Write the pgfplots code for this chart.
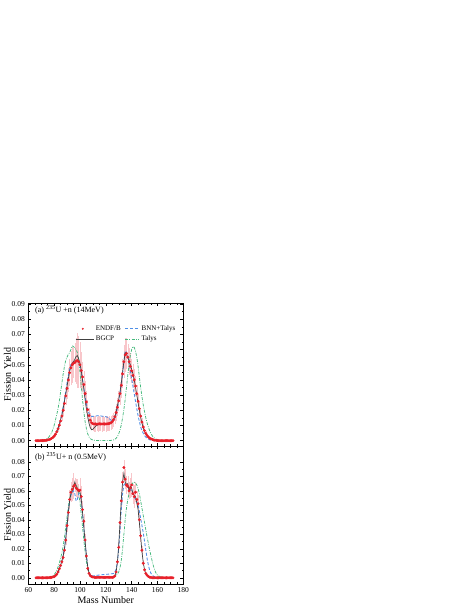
\documentclass[border=0pt]{standalone}
\usepackage{fontspec}
\setmainfont{Liberation Serif}
\usepackage{pgfplots}
\pgfplotsset{compat=1.18}
\usepackage{pgfplotstable}

\definecolor{endf}{HTML}{E8202A}
\definecolor{errpink}{HTML}{F8C6CA}
\definecolor{bgcp}{HTML}{404040}
\definecolor{bnn}{HTML}{4F8FE6}
\definecolor{talys}{HTML}{45B97C}

% ---------- (a) 14 MeV ----------
\pgfplotstableread{
A Y E
66 0.0000 0.0000
67 0.0000 0.0000
68 0.0000 0.0000
69 0.0000 0.0000
70 0.0001 0.0000
71 0.0001 0.0000
72 0.0001 0.0001
73 0.0002 0.0001
74 0.0003 0.0001
75 0.0005 0.0001
76 0.0007 0.0002
77 0.0010 0.0003
78 0.0015 0.0004
79 0.0021 0.0005
80 0.0030 0.0007
81 0.0042 0.0010
82 0.0058 0.0013
83 0.0078 0.0018
84 0.0102 0.0022
85 0.0130 0.0028
86 0.0162 0.0035
87 0.0200 0.0040
88 0.0245 0.0050
89 0.0295 0.0060
90 0.0345 0.0070
91 0.0400 0.0080
92 0.0448 0.0090
93 0.0480 0.0110
94 0.0500 0.0120
95 0.0510 0.0100
96 0.0515 0.0130
97 0.0525 0.0150
98 0.0528 0.0180
99 0.0520 0.0170
100 0.0500 0.0150
101 0.0462 0.0120
102 0.0420 0.0100
103 0.0370 0.0090
104 0.0310 0.0080
105 0.0255 0.0070
106 0.0205 0.0060
107 0.0165 0.0050
108 0.0135 0.0050
109 0.0118 0.0045
110 0.0112 0.0045
111 0.0110 0.0050
112 0.0110 0.0050
113 0.0109 0.0045
114 0.0110 0.0050
115 0.0111 0.0050
116 0.0110 0.0045
117 0.0110 0.0050
118 0.0111 0.0050
119 0.0110 0.0045
120 0.0110 0.0050
121 0.0111 0.0050
122 0.0112 0.0045
123 0.0114 0.0050
124 0.0118 0.0045
125 0.0125 0.0045
126 0.0138 0.0045
127 0.0158 0.0050
128 0.0185 0.0055
129 0.0220 0.0060
130 0.0262 0.0065
131 0.0310 0.0075
132 0.0365 0.0085
133 0.0440 0.0095
134 0.0520 0.0110
135 0.0565 0.0110
136 0.0575 0.0100
137 0.0550 0.0090
138 0.0520 0.0090
139 0.0490 0.0085
140 0.0460 0.0080
141 0.0430 0.0075
142 0.0400 0.0070
143 0.0360 0.0065
144 0.0310 0.0060
145 0.0260 0.0050
146 0.0210 0.0045
147 0.0162 0.0040
148 0.0122 0.0030
149 0.0090 0.0025
150 0.0066 0.0020
151 0.0048 0.0015
152 0.0034 0.0010
153 0.0024 0.0008
154 0.0017 0.0006
155 0.0012 0.0004
156 0.0008 0.0003
157 0.0005 0.0002
158 0.0003 0.0001
159 0.0002 0.0001
160 0.0001 0.0000
161 0.0000 0.0000
162 0.0000 0.0000
163 0.0000 0.0000
164 0.0000 0.0000
165 0.0000 0.0000
166 0.0000 0.0000
167 0.0000 0.0000
168 0.0000 0.0000
169 0.0000 0.0000
170 0.0000 0.0000
171 0.0000 0.0000
172 0.0000 0.0000
}\endfa

\pgfplotstableread{
A Y
66 0.0000
70 0.0001
74 0.0002
75 0.0004
76 0.0006
78 0.0014
80 0.0030
82 0.0060
84 0.0105
86 0.0170
88 0.0260
90 0.0360
91 0.0410
92 0.0455
93 0.0490
94 0.0510
95 0.0520
96 0.0535
97 0.0555
98 0.0560
99 0.0540
100 0.0510
101 0.0460
102 0.0400
103 0.0340
104 0.0270
105 0.0210
106 0.0160
107 0.0115
108 0.0085
109 0.0072
110 0.0075
111 0.0085
112 0.0095
114 0.0105
116 0.0110
120 0.0110
122 0.0112
124 0.0118
125 0.0125
126 0.0140
127 0.0160
128 0.0190
129 0.0230
130 0.0270
131 0.0320
132 0.0380
133 0.0450
134 0.0520
135 0.0580
136 0.0570
137 0.0550
138 0.0525
139 0.0500
140 0.0470
141 0.0440
142 0.0400
143 0.0355
144 0.0300
145 0.0250
146 0.0200
147 0.0155
148 0.0115
149 0.0085
150 0.0060
152 0.0030
154 0.0015
156 0.0007
158 0.0003
160 0.0001
165 0.0000
172 0.0000
}\bgcpa

\pgfplotstableread{
A Y
66 0.0000
70 0.0001
74 0.0004
76 0.0008
78 0.0016
80 0.0030
82 0.0058
84 0.0105
86 0.0175
88 0.0270
90 0.0380
91 0.0430
92 0.0470
93 0.0500
94 0.0515
95 0.0520
96 0.0520
97 0.0522
98 0.0525
99 0.0515
100 0.0490
101 0.0450
102 0.0400
103 0.0345
104 0.0290
105 0.0240
106 0.0205
107 0.0180
108 0.0165
109 0.0160
110 0.0160
112 0.0162
114 0.0165
116 0.0163
118 0.0160
120 0.0158
122 0.0152
124 0.0135
125 0.0130
126 0.0135
127 0.0150
128 0.0180
129 0.0215
130 0.0260
131 0.0310
132 0.0370
133 0.0440
134 0.0520
135 0.0590
136 0.0585
137 0.0555
138 0.0510
139 0.0460
140 0.0410
141 0.0360
142 0.0310
143 0.0260
144 0.0210
145 0.0165
146 0.0125
147 0.0090
148 0.0065
150 0.0033
152 0.0015
154 0.0006
156 0.0002
160 0.0000
172 0.0000
}\bnna

\pgfplotstableread{
A Y
66 0.0000
70 0.0002
72 0.0005
74 0.0010
76 0.0025
78 0.0050
80 0.0100
82 0.0170
83 0.0210
84 0.0260
85 0.0320
86 0.0380
87 0.0440
88 0.0490
89 0.0530
90 0.0550
91 0.0570
92 0.0580
93 0.0600
94 0.0625
95 0.0620
96 0.0610
97 0.0600
98 0.0580
99 0.0530
100 0.0450
101 0.0360
102 0.0270
103 0.0190
104 0.0125
105 0.0078
106 0.0045
107 0.0025
108 0.0013
110 0.0004
112 0.0002
116 0.0001
120 0.0001
124 0.0002
126 0.0005
127 0.0009
128 0.0016
129 0.0027
130 0.0045
131 0.0070
132 0.0105
133 0.0150
134 0.0205
135 0.0270
136 0.0350
137 0.0430
138 0.0500
139 0.0560
140 0.0600
141 0.0620
142 0.0615
143 0.0590
144 0.0550
145 0.0490
146 0.0420
147 0.0350
148 0.0290
149 0.0235
150 0.0190
151 0.0150
152 0.0115
153 0.0088
154 0.0065
155 0.0047
156 0.0032
158 0.0014
160 0.0005
163 0.0001
166 0.0000
172 0.0000
}\talysa

% ---------- (b) 0.5 MeV ----------
\pgfplotstableread{
A Y E
66 0.0000 0.0000
67 0.0000 0.0000
68 0.0000 0.0000
69 0.0000 0.0000
70 0.0000 0.0000
71 0.0000 0.0000
72 0.0000 0.0000
73 0.0000 0.0000
74 0.0000 0.0000
75 0.0000 0.0000
76 0.0001 0.0000
77 0.0002 0.0001
78 0.0003 0.0001
79 0.0005 0.0001
80 0.0008 0.0002
81 0.0014 0.0003
82 0.0024 0.0004
83 0.0040 0.0006
84 0.0062 0.0009
85 0.0085 0.0012
86 0.0110 0.0015
87 0.0140 0.0020
88 0.0190 0.0025
89 0.0260 0.0035
90 0.0360 0.0045
91 0.0450 0.0055
92 0.0540 0.0065
93 0.0590 0.0070
94 0.0610 0.0080
95 0.0630 0.0090
96 0.0640 0.0050
97 0.0620 0.0060
98 0.0610 0.0070
99 0.0600 0.0050
100 0.0605 0.0080
101 0.0560 0.0070
102 0.0470 0.0060
103 0.0390 0.0050
104 0.0260 0.0040
105 0.0150 0.0030
106 0.0065 0.0015
107 0.0030 0.0008
108 0.0015 0.0004
109 0.0008 0.0002
110 0.0005 0.0001
111 0.0003 0.0001
112 0.0003 0.0001
113 0.0003 0.0001
114 0.0003 0.0001
115 0.0003 0.0001
116 0.0003 0.0001
117 0.0003 0.0001
118 0.0003 0.0001
119 0.0003 0.0001
120 0.0003 0.0001
121 0.0003 0.0001
122 0.0003 0.0001
123 0.0003 0.0001
124 0.0003 0.0001
125 0.0003 0.0001
126 0.0005 0.0001
127 0.0012 0.0003
128 0.0040 0.0008
129 0.0110 0.0020
130 0.0210 0.0035
131 0.0380 0.0050
132 0.0530 0.0060
133 0.0660 0.0070
134 0.0760 0.0050
135 0.0680 0.0070
136 0.0640 0.0060
137 0.0630 0.0070
138 0.0600 0.0060
139 0.0620 0.0070
140 0.0640 0.0080
141 0.0580 0.0070
142 0.0560 0.0080
143 0.0590 0.0070
144 0.0540 0.0060
145 0.0510 0.0060
146 0.0400 0.0050
147 0.0290 0.0040
148 0.0190 0.0030
149 0.0100 0.0020
150 0.0055 0.0010
151 0.0030 0.0006
152 0.0017 0.0004
153 0.0009 0.0002
154 0.0004 0.0001
155 0.0002 0.0000
156 0.0000 0.0000
157 0.0000 0.0000
158 0.0000 0.0000
159 0.0000 0.0000
160 0.0000 0.0000
161 0.0000 0.0000
162 0.0000 0.0000
163 0.0000 0.0000
164 0.0000 0.0000
165 0.0000 0.0000
166 0.0000 0.0000
167 0.0000 0.0000
168 0.0000 0.0000
169 0.0000 0.0000
170 0.0000 0.0000
171 0.0000 0.0000
172 0.0000 0.0000
}\endfb

\pgfplotstableread{
A Y
66 0.0000
76 0.0000
78 0.0003
80 0.0008
82 0.0022
84 0.0060
85 0.0085
86 0.0115
87 0.0150
88 0.0200
89 0.0270
90 0.0360
91 0.0450
92 0.0530
93 0.0580
94 0.0600
95 0.0620
96 0.0660
97 0.0630
98 0.0610
99 0.0600
100 0.0590
101 0.0540
102 0.0450
103 0.0350
104 0.0250
105 0.0150
106 0.0075
107 0.0035
108 0.0015
110 0.0005
115 0.0003
120 0.0003
125 0.0004
127 0.0012
128 0.0040
129 0.0110
130 0.0220
131 0.0380
132 0.0540
133 0.0660
134 0.0720
135 0.0660
136 0.0640
137 0.0650
138 0.0600
139 0.0630
140 0.0620
141 0.0580
142 0.0570
143 0.0560
144 0.0520
145 0.0470
146 0.0380
147 0.0280
148 0.0180
149 0.0105
150 0.0055
151 0.0028
152 0.0014
154 0.0004
156 0.0001
160 0.0000
172 0.0000
}\bgcpb

\pgfplotstableread{
A Y
66 0.0000
76 0.0001
78 0.0003
80 0.0008
82 0.0022
84 0.0060
86 0.0120
88 0.0200
89 0.0280
90 0.0370
91 0.0460
92 0.0530
93 0.0570
94 0.0590
95 0.0600
96 0.0580
97 0.0530
98 0.0540
99 0.0580
100 0.0580
101 0.0530
102 0.0440
103 0.0340
104 0.0240
105 0.0150
106 0.0080
107 0.0040
108 0.0020
110 0.0012
114 0.0018
118 0.0022
122 0.0025
125 0.0028
126 0.0030
127 0.0040
128 0.0060
129 0.0110
130 0.0200
131 0.0330
132 0.0470
133 0.0580
134 0.0640
135 0.0650
136 0.0640
137 0.0630
138 0.0620
139 0.0610
140 0.0600
141 0.0580
142 0.0560
143 0.0540
144 0.0520
145 0.0500
146 0.0460
147 0.0410
148 0.0360
149 0.0310
150 0.0250
151 0.0190
152 0.0130
153 0.0085
154 0.0050
155 0.0030
157 0.0010
160 0.0002
164 0.0000
172 0.0000
}\bnnb

\pgfplotstableread{
A Y
66 0.0000
74 0.0001
76 0.0003
78 0.0008
80 0.0020
82 0.0050
84 0.0100
86 0.0170
87 0.0220
88 0.0280
89 0.0350
90 0.0420
91 0.0490
92 0.0550
93 0.0590
94 0.0620
95 0.0640
96 0.0650
97 0.0640
98 0.0620
99 0.0580
100 0.0520
101 0.0440
102 0.0350
103 0.0260
104 0.0180
105 0.0110
106 0.0060
107 0.0030
108 0.0015
110 0.0004
115 0.0001
120 0.0001
125 0.0003
127 0.0008
128 0.0015
129 0.0025
130 0.0040
131 0.0070
132 0.0120
133 0.0200
134 0.0300
135 0.0400
136 0.0480
137 0.0540
138 0.0580
139 0.0615
140 0.0640
141 0.0655
142 0.0660
143 0.0655
144 0.0640
145 0.0615
146 0.0580
147 0.0530
148 0.0480
149 0.0430
150 0.0380
151 0.0330
152 0.0280
153 0.0235
154 0.0190
155 0.0150
156 0.0110
157 0.0078
158 0.0050
159 0.0030
160 0.0018
162 0.0007
165 0.0001
168 0.0000
172 0.0000
}\talysb

\pgfplotsset{
  panel/.style={
    scale only axis, width=155pt,
    xmin=60, xmax=180,
    xtick={60,80,...,180}, minor x tick num=3,
    minor y tick num=1,
    tick align=inside,
    major tick length=3pt, minor tick length=1.6pt,
    tick style={black, line width=0.4pt},
    axis line style={line width=0.5pt},
    scaled y ticks=false,
    yticklabel style={/pgf/number format/.cd, fixed, fixed zerofill, precision=2},
    /pgf/number format/assume math mode=true,
    ticklabel style={font=\fontsize{7.5}{9}\selectfont},
    label style={font=\fontsize{10}{11}\selectfont},
    ylabel={Fission Yield},
    every axis y label/.style={at={(rel axis cs:-0.135,0.5)}, rotate=90,
      anchor=center},
    every axis x label/.style={at={(rel axis cs:0.5,0)}, anchor=center,
      yshift=-16pt},
  },
  endfstyle/.style={only marks, mark=*, mark size=1.25pt, endf,
    error bars/y dir=both, error bars/y explicit,
    error bars/error bar style={errpink, line width=0.45pt},
    error bars/error mark=none},
  bgcpstyle/.style={bgcp, line width=0.7pt, no marks},
  bnnstyle/.style={bnn, line width=0.85pt, no marks, dash pattern=on 3pt off 1.8pt},
  talysstyle/.style={talys, line width=0.75pt, no marks, dash pattern=on 3pt off 1.3pt on 0.8pt off 1.3pt},
  shortleg/.style={legend image code/.code={\draw[##1] (0pt,0pt) -- (14pt,0pt);}},
  longleg/.style={legend image code/.code={\draw[##1] (0pt,0pt) -- (18pt,0pt);}},
  dotleg/.style={legend image code/.code={
      \path[draw=none, fill=none] (0pt,-1pt) rectangle (18pt,1pt);
      \fill[endf, draw=none] (7.3pt,0pt) circle (1.1pt);}},
}

\begin{document}
\begin{tikzpicture}
\path[use as bounding box] (0,0) rectangle (469pt,607pt);

\begin{axis}[panel,
  at={(28.3pt,161pt)}, anchor=south west, height=143pt,
  ymin=-0.0035, ymax=0.0907,
  ytick={0,0.01,...,0.09},
  xticklabels={},
  legend columns=2,
  legend cell align=left,
  legend style={draw=none, fill=none, inner sep=0pt,
    font=\fontsize{7}{8.5}\selectfont,
    at={(rel axis cs:0.301,0.857)}, anchor=north west,
    /tikz/every even column/.append style={column sep=2pt}},
]
\addlegendimage{draw=none, dotleg}
\addlegendimage{bnnstyle, shortleg}
\addlegendimage{bgcpstyle, longleg}
\addlegendimage{talysstyle, shortleg}
\legend{ENDF/B, BNN+Talys, BGCP, Talys}

\addplot[forget plot, endfstyle] table[x=A, y=Y, y error=E] {\endfa};
\addplot[forget plot, talysstyle] table[x=A, y=Y] {\talysa};
\addplot[forget plot, bnnstyle] table[x=A, y=Y] {\bnna};
\addplot[forget plot, bgcpstyle] table[x=A, y=Y] {\bgcpa};

\node[anchor=base west, font=\fontsize{8}{9}\selectfont] at (rel axis cs:0.022,0.935)
  {(a) \textsuperscript{235}U +n (14MeV)};
\end{axis}

\begin{axis}[panel,
  at={(28.3pt,23pt)}, anchor=south west, height=138pt,
  ymin=-0.0043, ymax=0.0909,
  ytick={0,0.01,...,0.08},
  xlabel={Mass Number},
]
\addplot[forget plot, endfstyle] table[x=A, y=Y, y error=E] {\endfb};
\addplot[forget plot, talysstyle] table[x=A, y=Y] {\talysb};
\addplot[forget plot, bnnstyle] table[x=A, y=Y] {\bnnb};
\addplot[forget plot, bgcpstyle] table[x=A, y=Y] {\bgcpb};

\node[anchor=base west, font=\fontsize{8}{9}\selectfont] at (rel axis cs:0.022,0.905)
  {(b) \textsuperscript{235}U+ n (0.5MeV)};
\end{axis}
\end{tikzpicture}
\end{document}
